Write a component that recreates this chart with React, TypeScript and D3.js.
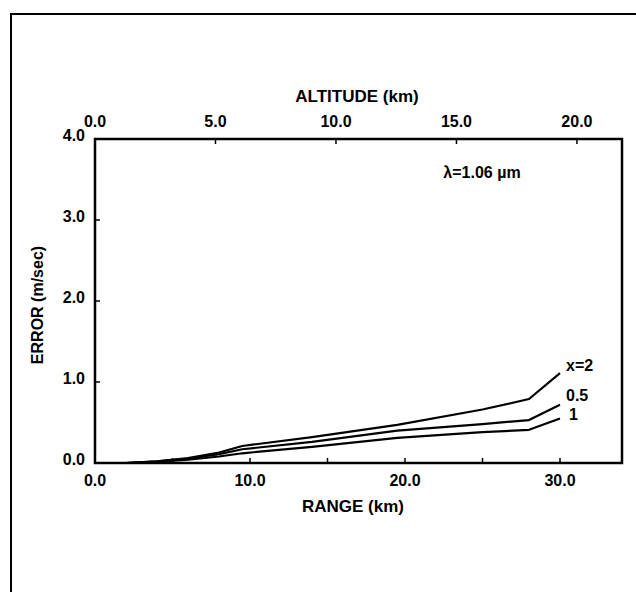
import React from "react";
import * as d3 from "d3";

const rangeKm = [0, 2, 4, 6, 8, 9.5, 14, 19.5, 25, 28, 30];
const errX2 = [0, 0, 0.02, 0.06, 0.13, 0.21, 0.32, 0.47, 0.66, 0.79, 1.11];
const errX05 = [0, 0, 0.02, 0.05, 0.11, 0.17, 0.26, 0.40, 0.48, 0.53, 0.72];
const errX1 = [0, 0, 0.015, 0.04, 0.08, 0.12, 0.2, 0.31, 0.38, 0.41, 0.55];
const seriesLabels = ["x=2", "0.5", "1"];
const rangeTicks = [0, 10, 20, 30];
const rangeMinor = [5, 10, 15, 20, 25, 30];
const altTicks = [0, 5, 10, 15, 20];
const errTicks = [0, 1, 2, 3, 4];

const W = 636;
const H = 592;
const L = 95, R = 622, T = 139, B = 463;
const FONT = "'Liberation Sans', Arial, sans-serif";

export default function App() {
  const x = d3.scaleLinear().domain([0, 34]).range([L, R]);
  const xa = d3.scaleLinear().domain([0, 21.87]).range([L, R]);
  const y = d3.scaleLinear().domain([0, 4]).range([B, T]);
  const line = d3
    .line<number>()
    .x((_, i) => x(rangeKm[i]))
    .y((d) => y(d));
  const series = [errX2, errX05, errX1];
  const labelDy = [-6, -8, -3];
  const labelDx = [6, 6, 9];
  const fmt = d3.format(".1f");
  return (
    <svg
      width={W}
      height={H}
      style={{ position: "absolute", left: 0, top: 0, background: "#fff" }}
      fontFamily={FONT}
      fontWeight="bold"
    >
      <rect x={0} y={0} width={W} height={H} fill="#fff" />
      {/* outer frame */}
      <line x1={11} y1={14} x2={W} y2={14} stroke="#000" strokeWidth={2} />
      <line x1={11} y1={13} x2={11} y2={H} stroke="#000" strokeWidth={2} />
      {/* plot box */}
      <rect x={L} y={T} width={R - L} height={B - T} fill="none" stroke="#000" strokeWidth={2.5} />
      {/* left ticks */}
      {errTicks.map((t) => (
        <g key={"yt" + t}>
          {t > 0 && t < 4 && (
            <line x1={L} x2={L + 5} y1={y(t)} y2={y(t)} stroke="#000" strokeWidth={1.5} />
          )}
          <text x={L - 10} y={y(t) - 2} textAnchor="end" dominantBaseline="middle" fontSize={16}>
            {fmt(t)}
          </text>
        </g>
      ))}
      {/* bottom ticks */}
      {rangeMinor.map((t) => (
        <line key={"bm" + t} x1={x(t)} x2={x(t)} y1={B} y2={B - 5} stroke="#000" strokeWidth={1.5} />
      ))}
      {rangeTicks.map((t) => (
        <text key={"bt" + t} x={x(t)} y={B + 19} textAnchor="middle" dominantBaseline="middle" fontSize={16}>
          {fmt(t)}
        </text>
      ))}
      {/* top ticks */}
      {altTicks.map((t) => (
        <g key={"at" + t}>
          {t > 0 && (
            <line x1={xa(t)} x2={xa(t)} y1={T} y2={T + 5} stroke="#000" strokeWidth={1.5} />
          )}
          <text x={xa(t)} y={T - 16} textAnchor="middle" dominantBaseline="middle" fontSize={16}>
            {fmt(t)}
          </text>
        </g>
      ))}
      {/* axis titles */}
      <text x={357} y={98} textAnchor="middle" dominantBaseline="middle" fontSize={17}>
        ALTITUDE (km)
      </text>
      <text x={353} y={508} textAnchor="middle" dominantBaseline="middle" fontSize={17}>
        RANGE (km)
      </text>
      <text
        transform={`translate(39, ${(T + B) / 2 + 4}) rotate(-90)`}
        textAnchor="middle"
        dominantBaseline="middle"
        fontSize={16}
      >
        ERROR (m/sec)
      </text>
      <text x={482} y={174} textAnchor="middle" dominantBaseline="middle" fontSize={16}>
        λ=1.06 µm
      </text>
      {/* curves */}
      {series.map((s, i) => (
        <g key={"s" + i}>
          <path d={line(s) || ""} fill="none" stroke="#000" strokeWidth={2.2} strokeLinejoin="round" />
          <text
            x={x(rangeKm[rangeKm.length - 1]) + labelDx[i]}
            y={y(s[s.length - 1]) + labelDy[i]}
            dominantBaseline="middle"
            fontSize={16}
          >
            {seriesLabels[i]}
          </text>
        </g>
      ))}
    </svg>
  );
}
